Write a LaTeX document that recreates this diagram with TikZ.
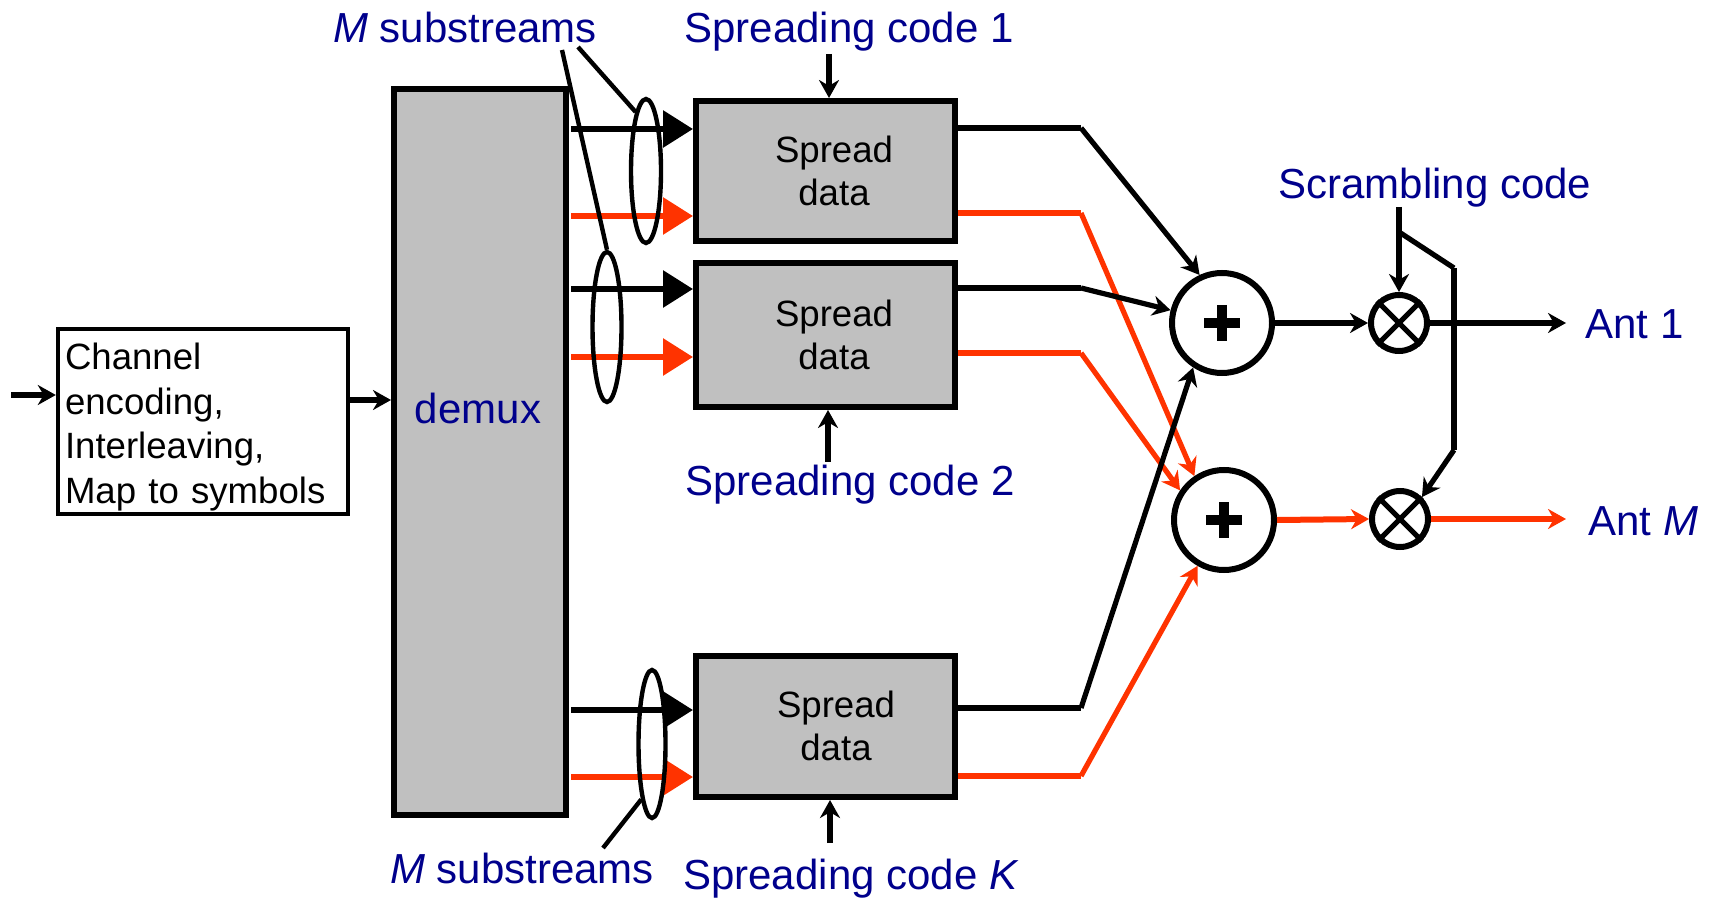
\documentclass[tikz,border=0pt]{standalone}
\usepackage{fontspec}
\setmainfont{Liberation Sans}
\usetikzlibrary{arrows.meta,shapes.geometric}
\definecolor{myred}{RGB}{255,51,0}
\definecolor{myblue}{RGB}{0,0,140}
\definecolor{boxgray}{RGB}{192,192,192}
\begin{document}
\begin{tikzpicture}[x=0.5pt,y=-0.5pt,
  lbl/.style={text=myblue,font=\fontsize{21}{25}\selectfont,inner sep=0pt},
  blk/.style={draw,line width=3pt,fill=boxgray,inner sep=0pt,font=\fontsize{18.3}{21.3}\selectfont,align=center},
  bigarr/.style={line width=3pt,-{Triangle[length=15pt,width=18pt]}},
  thinarr/.style={line width=2.6pt,-{Stealth[length=9pt,width=10pt]}},
  stub/.style={line width=3pt},
  oval/.style={draw,ellipse,line width=2.2pt,inner sep=0pt},
  sumnode/.style={draw,circle,line width=3pt,minimum size=50pt,inner sep=0pt},
  mulnode/.style={draw,circle,line width=3pt,minimum size=28pt,inner sep=0pt},
]
\useasboundingbox (0,0) rectangle (1716,898);

% channel box
\node[draw,line width=2.2pt,minimum width=145pt,minimum height=92.5pt,inner sep=0pt] (chan) at (203,421.5) {};
\node[inner sep=0pt,text width=140pt,align=left,font=\fontsize{18.3}{22.3}\selectfont] (chantxt) at (205,427)
      {Channel\\encoding,\\Interleaving,\\Map to symbols};
\coordinate (in) at (11,395);
\draw[thinarr] (in) -- (in -| chan.west);
\coordinate (cd) at (348,400);
\node[blk,minimum width=86pt,minimum height=363pt] (demux) at (480,452) {};
\draw[thinarr] (cd) -- (cd -| demux.west);
\node[lbl] (dmx) at (478,408) {demux};

% spread boxes
\node[blk,minimum width=129.5pt,minimum height=70pt] (s1) at (825.5,171) {};
\node[blk,minimum width=129.5pt,minimum height=72pt] (s2) at (825.5,335) {};
\node[blk,minimum width=129.5pt,minimum height=70.5pt] (sK) at (825.5,726.5) {};
\node[font=\fontsize{18.3}{21.3}\selectfont,align=center,inner sep=0pt] (t1) at (834,171) {Spread\\data};
\node[font=\fontsize{18.3}{21.3}\selectfont,align=center,inner sep=0pt] (t2) at (834,335) {Spread\\data};
\node[font=\fontsize{18.3}{21.3}\selectfont,align=center,inner sep=0pt] (tK) at (836,726) {Spread\\data};

% inputs to spread boxes
\coordinate (i1a) at (571,129);
\coordinate (i1b) at (571,216);
\coordinate (i2a) at (571,289);
\coordinate (i2b) at (571,357);
\coordinate (iKa) at (571,710);
\coordinate (iKb) at (571,777);
\draw[bigarr] (i1a) -- (i1a -| s1.west);
\draw[bigarr,myred] (i1b) -- (i1b -| s1.west);
\draw[bigarr] (i2a) -- (i2a -| s2.west);
\draw[bigarr,myred] (i2b) -- (i2b -| s2.west);
\draw[bigarr] (iKa) -- (iKa -| sK.west);
\draw[bigarr,myred] (iKb) -- (iKb -| sK.west);

% ellipses
\node[oval,minimum width=15pt,minimum height=72pt] (e1) at (646,171) {};
\node[oval,minimum width=14.5pt,minimum height=75pt] (e2) at (607,327) {};
\node[oval,minimum width=13.5pt,minimum height=74pt] (eK) at (652,744) {};

% M substreams labels
\node[lbl] (mtop) at (465,27) {\textit{M} substreams};
\coordinate (mA) at (578,47);
\coordinate (mB) at (562,50);
\draw[line width=2.2pt] (mA) -- (e1.100);
\draw[line width=2.2pt] (mB) -- (e2.north);
\node[lbl] (mbot) at (522,868) {\textit{M} substreams};
\coordinate (mC) at (603,848);
\draw[line width=2.2pt] (mC) -- (eK.259);

% spreading codes
\node[lbl] (sc1) at (849,32) {Spreading code 1};
\coordinate (c1) at (829,54);
\draw[thinarr] (c1) -- (c1 |- s1.north);
\node[lbl] (sc2) at (850,485) {Spreading code 2};
\coordinate (c2) at (828,462);
\draw[thinarr] (c2) -- (c2 |- s2.south);
\node[lbl] (scK) at (851,879) {Spreading code \textit{K}};
\coordinate (cK) at (830,843);
\draw[thinarr] (cK) -- (cK |- sK.south);

% summers and multipliers
\node[sumnode] (p1) at (1222,323) {};
\node[sumnode] (p2) at (1224,520) {};
\draw[line width=5pt] (p1) +(-18,0) -- +(18,0) (p1) +(0,-18) -- +(0,18);
\draw[line width=5pt] (p2) +(-18,0) -- +(18,0) (p2) +(0,-18) -- +(0,18);
\node[mulnode] (m1) at (1399,323) {};
\node[mulnode] (m2) at (1400,519) {};
\draw[line width=2.6pt] (m1.45) -- (m1.225) (m1.135) -- (m1.315);
\draw[line width=2.6pt] (m2.45) -- (m2.225) (m2.135) -- (m2.315);

% outputs of spread boxes
\coordinate (b1) at (1081,128);
\coordinate (r1) at (1081,213);
\coordinate (b2) at (1081,288);
\coordinate (r2) at (1081,353);
\coordinate (bK) at (1081,708);
\coordinate (rK) at (1081,776);
\draw[stub] (s1.east |- b1) -- (b1);
\draw[thinarr] (b1) -- (p1.115);
\draw[stub,myred] (s1.east |- r1) -- (r1);
\draw[thinarr,myred] (r1) -- (p2.124);
\draw[stub] (s2.east |- b2) -- (b2);
\draw[thinarr] (b2) -- (p1.166);
\draw[stub,myred] (s2.east |- r2) -- (r2);
\draw[thinarr,myred] (r2) -- (p2.146);
\draw[stub] (sK.east |- bK) -- (bK);
\draw[thinarr] (bK) -- (p1.237);
\draw[stub,myred] (sK.east |- rK) -- (rK);
\draw[thinarr,myred] (rK) -- (p2.240);

% summer to multiplier
\draw[thinarr] (p1.east) -- (m1.west);
\draw[thinarr,myred,line width=3pt] (p2.east) -- (m2.west);

% scrambling code
\node[lbl] (scr) at (1435,188) {Scrambling code};
\coordinate (sc0) at (1399,207);
\draw[thinarr] (sc0) -- (m1.north);
\coordinate (sb) at (1399,232);
\coordinate (sj1) at (1454,268);
\coordinate (sj2) at (1454,450);
\draw[line width=2.6pt] (sb) -- (sj1);
\draw[line width=3pt] (sj1) -- (sj2);
\draw[thinarr] (sj2) -- (m2.45);

% antennas
\coordinate (a1e) at (1566,323);
\coordinate (aMe) at (1566,519);
\draw[thinarr] (m1.east) -- (a1e);
\draw[thinarr,myred,line width=3pt] (m2.east) -- (aMe);
\node[lbl,anchor=west] (ant1) at (1585,324) {Ant 1};
\node[lbl,anchor=west] (antM) at (1588,521) {Ant \textit{M}};
\end{tikzpicture}
\end{document}
